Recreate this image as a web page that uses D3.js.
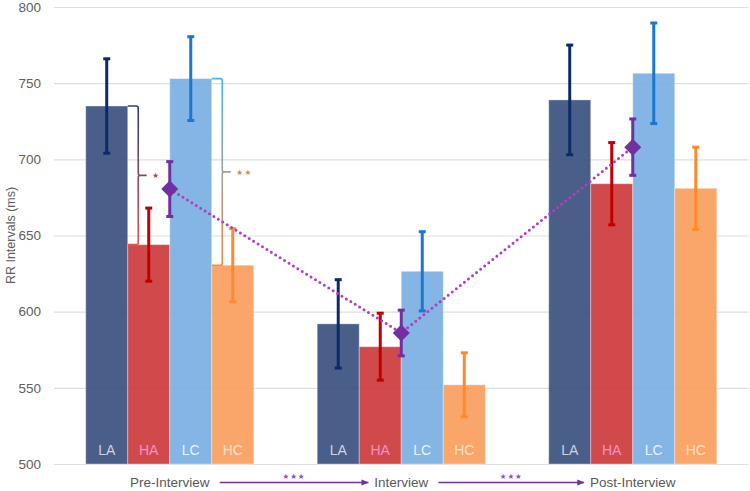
<!DOCTYPE html>
<html>
<head>
<meta charset="utf-8">
<script src="https://cdn.jsdelivr.net/npm/d3@7"></script>
<style>
  body { margin: 0; background: #fff; }
  svg { display: block; font-family: "Liberation Sans", Arial, sans-serif; }
</style>
</head>
<body>
<div id="chart"></div>
<script>
// DATA
const phases = ["Pre-Interview", "Interview", "Post-Interview"];
const groups = ["LA", "HA", "LC", "HC"];

const laMean = [735, 592, 739],   laErr = [31, 29, 36];
const haMean = [644, 577, 684],   haErr = [24, 22, 27];
const lcMean = [753, 626.5, 756.5], lcErr = [27.5, 26, 33];
const hcMean = [630.5, 552, 681], hcErr = [24, 21, 27];
const allMean = [680.5, 586, 708], allErr = [18, 15, 18.5];

const yTicks = [500, 550, 600, 650, 700, 750, 800];

// significance brackets: pair of groups in the first phase
const brackets = [
  { from: "LA", to: "HA", label: "★", c0: "#2c3e7e", c1: "#e8504e", star: "#a04a3a" },
  { from: "LC", to: "HC", label: "★★", c0: "#45b6f2", c1: "#f58a45", star: "#c88a52" }
];
const phaseStars = "★★★";

// colours
const fillCol = { LA: "#364d7d", HA: "#cb3638", LC: "#77ade2", HC: "#fa9b59" };
const errCol  = { LA: "#0c2a6a", HA: "#c00000", LC: "#1a78d0", HC: "#ff8a2c" };
const txtCol  = { LA: "#cdd3e0", HA: "#f38fcb", LC: "#e2f4ff", HC: "#ffe2cc" };
const purple = "#7030a0";

const means = { LA: laMean, HA: haMean, LC: lcMean, HC: hcMean };
const errs  = { LA: laErr,  HA: haErr,  LC: lcErr,  HC: hcErr };

const rows = [];
phases.forEach((p, i) => groups.forEach(k => rows.push({ phase: p, key: k, mean: means[k][i], err: errs[k][i] })));
const overall = phases.map((p, i) => ({ phase: p, mean: allMean[i], err: allErr[i] }));

const W = 750, H = 491;
const margin = { top: 7, right: 1.5, bottom: 27, left: 54 };

const svg = d3.select("#chart").append("svg").attr("width", W).attr("height", H);

const x = d3.scaleBand().domain(phases)
  .range([margin.left, W - margin.right])
  .paddingInner(0.274).paddingOuter(0.137);
const xs = d3.scaleBand().domain(groups).range([0, x.bandwidth()]);
const y = d3.scaleLinear().domain([500, 800]).range([H - margin.bottom, margin.top]);

// gridlines + tick labels
const yAxis = d3.axisLeft(y).tickValues(yTicks)
  .tickSize(-(W - margin.left - margin.right)).tickPadding(13);
const yG = svg.append("g").attr("transform", `translate(${margin.left},0)`).call(yAxis);
yG.select(".domain").remove();
yG.selectAll(".tick line").attr("stroke", "#dedede").attr("stroke-width", 1.2);
yG.selectAll(".tick text").attr("fill", "#606060").style("font-size", "13.5px");

svg.append("text")
  .attr("transform", `translate(15,${(y(500) + y(800)) / 2}) rotate(-90)`)
  .attr("text-anchor", "middle")
  .attr("fill", "#606060").style("font-size", "12.5px")
  .text("RR Intervals (ms)");

// bars
const bx = d => x(d.phase) + xs(d.key);
svg.append("g").selectAll("rect").data(rows).join("rect")
  .attr("x", bx)
  .attr("y", d => y(d.mean))
  .attr("width", xs.bandwidth())
  .attr("height", d => y(500) - y(d.mean))
  .attr("fill", d => fillCol[d.key]).attr("fill-opacity", 0.9)
  .attr("stroke", "#fff").attr("stroke-opacity", 0.35).attr("stroke-width", 1);

// bar labels
svg.append("g").selectAll("text").data(rows).join("text")
  .attr("x", d => bx(d) + xs.bandwidth() / 2)
  .attr("y", y(500) - 9)
  .attr("text-anchor", "middle")
  .attr("fill", d => txtCol[d.key])
  .style("font-size", "14px")
  .text(d => d.key);

// error bars
function errorBars(sel, data, cx, col) {
  const g = sel.append("g");
  g.selectAll("line.v").data(data).join("line").attr("class", "v")
    .attr("x1", cx).attr("x2", cx)
    .attr("y1", d => y(d.mean + d.err)).attr("y2", d => y(d.mean - d.err))
    .attr("stroke", col).attr("stroke-width", 3);
  ["+", "-"].forEach(s => {
    g.selectAll("line.c" + (s === "+" ? "t" : "b")).data(data).join("line")
      .attr("class", "c" + (s === "+" ? "t" : "b"))
      .attr("x1", d => cx(d) - 3.5).attr("x2", d => cx(d) + 3.5)
      .attr("y1", d => y(s === "+" ? d.mean + d.err : d.mean - d.err))
      .attr("y2", d => y(s === "+" ? d.mean + d.err : d.mean - d.err))
      .attr("stroke", col).attr("stroke-width", 3);
  });
}
errorBars(svg, rows, d => bx(d) + xs.bandwidth() / 2, d => errCol[d.key]);

// brackets
const defs = svg.append("defs");
brackets.forEach((b, i) => {
  const v0 = means[b.from][0], v1 = means[b.to][0];
  const x0 = x(phases[0]) + xs(b.from) + xs.bandwidth();
  const xv = x0 + 10.5;
  const yt = y(v0), yb = y(v1), ym = (yt + yb) / 2;
  const gid = "brk" + i;
  const grad = defs.append("linearGradient").attr("id", gid)
    .attr("gradientUnits", "userSpaceOnUse")
    .attr("x1", 0).attr("x2", 0).attr("y1", yt).attr("y2", yb);
  grad.append("stop").attr("offset", "0%").attr("stop-color", b.c0);
  grad.append("stop").attr("offset", "50%").attr("stop-color", d3.interpolateRgb(b.c0, b.c1)(0.5));
  grad.append("stop").attr("offset", "100%").attr("stop-color", b.c1);
  const p = d3.path();
  p.moveTo(x0, yt); p.lineTo(xv - 2, yt); p.quadraticCurveTo(xv, yt, xv, yt + 2);
  p.lineTo(xv, ym - 2); p.quadraticCurveTo(xv, ym, xv + 2, ym); p.lineTo(xv + 8.5, ym);
  p.moveTo(xv + 2, ym); p.quadraticCurveTo(xv, ym, xv, ym + 2);
  p.lineTo(xv, yb - 2); p.quadraticCurveTo(xv, yb, xv - 2, yb); p.lineTo(x0, yb);
  svg.append("path").attr("d", p.toString())
    .attr("fill", "none").attr("stroke", `url(#${gid})`).attr("stroke-width", 1.6);
  svg.append("text")
    .attr("x", xv + 14).attr("y", ym + 3)
    .attr("fill", b.star)
    .style("font-family", "DejaVu Sans").style("font-size", "7.5px")
    .style("letter-spacing", "1.5px")
    .text(b.label);
});

// overall mean line + diamonds
const cx = d => x(d.phase) + x.bandwidth() / 2;
svg.append("path").datum(overall)
  .attr("d", d3.line().x(cx).y(d => y(d.mean)))
  .attr("fill", "none").attr("stroke", "#b03fbf").attr("stroke-width", 3)
  .attr("stroke-dasharray", "0,5.2").attr("stroke-linecap", "round");
errorBars(svg, overall, cx, purple);
svg.append("g").selectAll("path").data(overall).join("path")
  .attr("transform", d => `translate(${cx(d)},${y(d.mean)}) rotate(45)`)
  .attr("d", "M-6,-6H6V6H-6Z")
  .attr("fill", purple);

// phase labels + arrows
const labY = H - 4;
const labs = svg.append("g").selectAll("text").data(phases).join("text")
  .attr("x", d => x(d) + x.bandwidth() / 2)
  .attr("y", labY)
  .attr("text-anchor", "middle")
  .attr("fill", "#595959").style("font-size", "13.5px")
  .text(d => d);

defs.append("marker").attr("id", "arr")
  .attr("viewBox", "0 0 10 10").attr("refX", 9).attr("refY", 5)
  .attr("markerWidth", 5).attr("markerHeight", 5).attr("orient", "auto")
  .append("path").attr("d", "M0,1L10,5L0,9Z").attr("fill", purple);

const nodes = labs.nodes();
for (let i = 0; i < nodes.length - 1; i++) {
  const a = nodes[i].getBBox(), b = nodes[i + 1].getBBox();
  const xa = a.x + a.width + 10, xb = b.x - 6, ya = labY - 4.5;
  svg.append("line").attr("x1", xa).attr("x2", xb).attr("y1", ya).attr("y2", ya)
    .attr("stroke", purple).attr("stroke-width", 1.5).attr("marker-end", "url(#arr)");
  svg.append("text")
    .attr("x", (xa + xb) / 2).attr("y", ya - 4)
    .attr("text-anchor", "middle")
    .attr("fill", "#8a50c8")
    .style("font-family", "DejaVu Sans").style("font-size", "7.5px")
    .style("letter-spacing", "1px")
    .text(phaseStars);
}
</script>
</body>
</html>
